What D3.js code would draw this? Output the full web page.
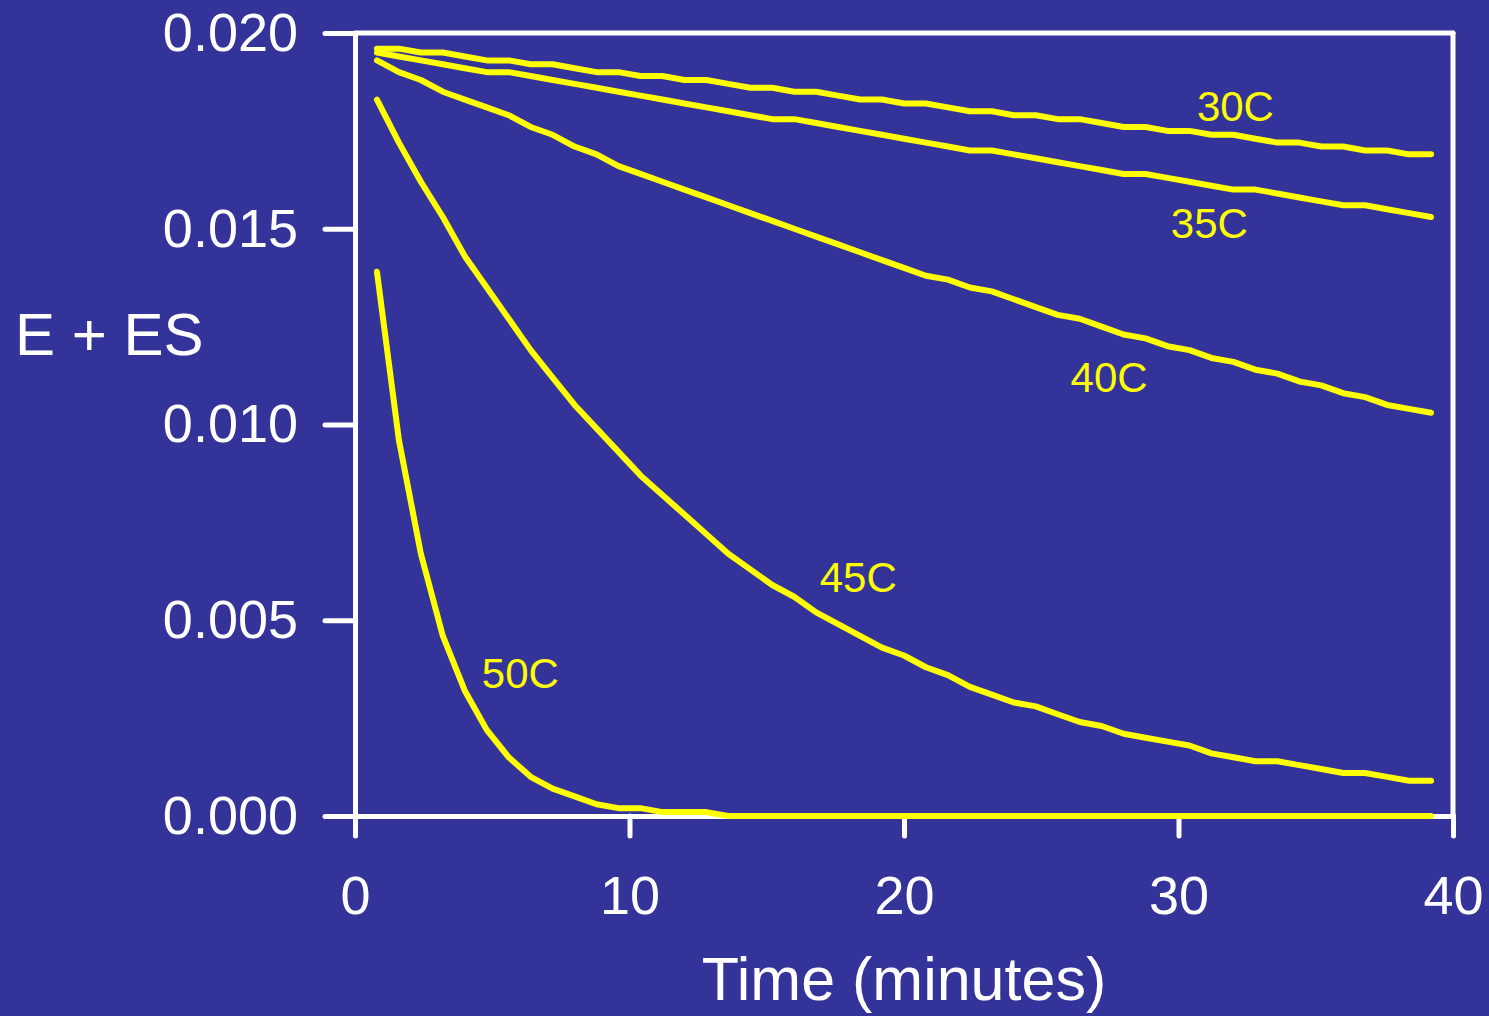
<!DOCTYPE html>
<html>
<head>
<meta charset="utf-8">
<script src="https://cdn.jsdelivr.net/npm/d3@7"></script>
<style>
  html, body { margin: 0; padding: 0; background: #343399; }
  svg { display: block; font-family: "Liberation Sans", Arial, sans-serif; }
</style>
</head>
<body>
<svg id="chart" width="1489" height="1016"></svg>
<script>
// time points (minutes)
const time = [0.8, 1.6, 2.4, 3.2, 4.0, 4.8, 5.6, 6.4, 7.2, 8.0, 8.8, 9.6, 10.4, 11.2, 12.0, 12.8,
  13.6, 14.4, 15.2, 16.0, 16.8, 17.6, 18.4, 19.2, 20.0, 20.8, 21.6, 22.4, 23.2, 24.0, 24.8, 25.6,
  26.4, 27.2, 28.0, 28.8, 29.6, 30.4, 31.2, 32.0, 32.8, 33.6, 34.4, 35.2, 36.0, 36.8, 37.6, 38.4, 39.2];

// E + ES for each temperature
const e30 = [0.0196, 0.0196, 0.0195, 0.0195, 0.0194, 0.0193, 0.0193, 0.0192, 0.0192, 0.0191, 0.0190, 0.0190,
  0.0189, 0.0189, 0.0188, 0.0188, 0.0187, 0.0186, 0.0186, 0.0185, 0.0185, 0.0184, 0.0183, 0.0183,
  0.0182, 0.0182, 0.0181, 0.0180, 0.0180, 0.0179, 0.0179, 0.0178, 0.0178, 0.0177, 0.0176, 0.0176,
  0.0175, 0.0175, 0.0174, 0.0174, 0.0173, 0.0172, 0.0172, 0.0171, 0.0171, 0.0170, 0.0170, 0.0169, 0.0169];
const e35 = [0.0195, 0.0194, 0.0193, 0.0192, 0.0191, 0.0190, 0.0190, 0.0189, 0.0188, 0.0187, 0.0186, 0.0185,
  0.0184, 0.0183, 0.0182, 0.0181, 0.0180, 0.0179, 0.0178, 0.0178, 0.0177, 0.0176, 0.0175, 0.0174,
  0.0173, 0.0172, 0.0171, 0.0170, 0.0170, 0.0169, 0.0168, 0.0167, 0.0166, 0.0165, 0.0164, 0.0164,
  0.0163, 0.0162, 0.0161, 0.0160, 0.0160, 0.0159, 0.0158, 0.0157, 0.0156, 0.0156, 0.0155, 0.0154, 0.0153];
const e40 = [0.0193, 0.0190, 0.0188, 0.0185, 0.0183, 0.0181, 0.0179, 0.0176, 0.0174, 0.0171, 0.0169, 0.0166,
  0.0164, 0.0162, 0.0160, 0.0158, 0.0156, 0.0154, 0.0152, 0.0150, 0.0148, 0.0146, 0.0144, 0.0142,
  0.0140, 0.0138, 0.0137, 0.0135, 0.0134, 0.0132, 0.0130, 0.0128, 0.0127, 0.0125, 0.0123, 0.0122,
  0.0120, 0.0119, 0.0117, 0.0116, 0.0114, 0.0113, 0.0111, 0.0110, 0.0108, 0.0107, 0.0105, 0.0104, 0.0103];
const e45 = [0.0183, 0.0172, 0.0162, 0.0153, 0.0143, 0.0135, 0.0127, 0.0119, 0.0112, 0.0105, 0.0099, 0.0093,
  0.0087, 0.0082, 0.0077, 0.0072, 0.0067, 0.0063, 0.0059, 0.0056, 0.0052, 0.0049, 0.0046, 0.0043,
  0.0041, 0.0038, 0.0036, 0.0033, 0.0031, 0.0029, 0.0028, 0.0026, 0.0024, 0.0023, 0.0021, 0.0020,
  0.0019, 0.0018, 0.0016, 0.0015, 0.0014, 0.0014, 0.0013, 0.0012, 0.0011, 0.0011, 0.0010, 0.0009, 0.0009];
const e50 = [0.0139, 0.0096, 0.0067, 0.0046, 0.0032, 0.0022, 0.0015, 0.0010, 0.0007, 0.0005, 0.0003, 0.0002,
  0.0002, 0.0001, 0.0001, 0.0001, 0, 0, 0, 0, 0, 0, 0, 0,
  0, 0, 0, 0, 0, 0, 0, 0, 0, 0, 0, 0,
  0, 0, 0, 0, 0, 0, 0, 0, 0, 0, 0, 0, 0];

const seriesNames = ["30C", "35C", "40C", "45C", "50C"];
const seriesValues = [e30, e35, e40, e45, e50];

// label anchors in data units (time, value at baseline)
const labelTime = [30.67, 29.72, 26.07, 16.93, 4.62];
const labelValue = [0.01775, 0.01476, 0.01084, 0.00573, 0.00327];

const xTicks = [0, 10, 20, 30, 40];
const yTicks = [0, 0.005, 0.010, 0.015, 0.020];

const svg = d3.select("#chart");

const x = d3.scaleLinear().domain([0, 40]).range([355, 1453]);
const y = d3.scaleLinear().domain([0, 0.020]).range([816, 33]);

const white = "#ffffff";
const yellow = "#ffff00";
const axisWidth = 5;

// frame: top and right
svg.append("line")
  .attr("x1", x(0)).attr("x2", x(40))
  .attr("y1", y(0.020)).attr("y2", y(0.020))
  .attr("stroke", white).attr("stroke-width", axisWidth).attr("stroke-linecap", "round");
svg.append("line")
  .attr("x1", x(40)).attr("x2", x(40))
  .attr("y1", y(0.020)).attr("y2", y(0))
  .attr("stroke", white).attr("stroke-width", axisWidth).attr("stroke-linecap", "round");

const yAxis = d3.axisLeft(y)
  .tickValues(yTicks)
  .tickFormat(d3.format(".3f"))
  .tickSize(30)
  .tickSizeOuter(0)
  .tickPadding(27);

const xAxis = d3.axisBottom(x)
  .tickValues(xTicks)
  .tickFormat(d3.format("d"))
  .tickSize(20)
  .tickSizeOuter(0)
  .tickPadding(40);

const gy = svg.append("g").attr("transform", `translate(${x(0)},0)`).call(yAxis);
const gx = svg.append("g").attr("transform", `translate(0,${y(0)})`).call(xAxis);

[gx, gy].forEach(g => {
  g.select(".domain").attr("stroke", white).attr("stroke-width", axisWidth).attr("stroke-linecap", "round");
  g.selectAll(".tick line").attr("stroke", white).attr("stroke-width", axisWidth).attr("stroke-linecap", "round");
  g.selectAll(".tick text")
    .attr("fill", white)
    .style("font-size", "54px")
    .style("font-family", '"Liberation Sans", Arial, sans-serif');
});

// curves
const line = d3.line()
  .x((d, i) => x(time[i]))
  .y(d => y(d));

svg.append("g")
  .selectAll("path")
  .data(seriesValues)
  .join("path")
  .attr("d", line)
  .attr("fill", "none")
  .attr("stroke", yellow)
  .attr("stroke-width", 6)
  .attr("stroke-linejoin", "round")
  .attr("stroke-linecap", "round");

// curve labels
svg.append("g")
  .selectAll("text")
  .data(seriesNames)
  .join("text")
  .attr("x", (d, i) => x(labelTime[i]))
  .attr("y", (d, i) => y(labelValue[i]))
  .attr("fill", yellow)
  .style("font-size", "42px")
  .text(d => d);

// axis titles
svg.append("text")
  .attr("x", x(20))
  .attr("y", 1000)
  .attr("text-anchor", "middle")
  .attr("fill", white)
  .style("font-size", "61px")
  .text("Time (minutes)");

svg.append("text")
  .attr("x", 15)
  .attr("y", 355)
  .attr("fill", white)
  .style("font-size", "60px")
  .text("E + ES");
</script>
</body>
</html>
